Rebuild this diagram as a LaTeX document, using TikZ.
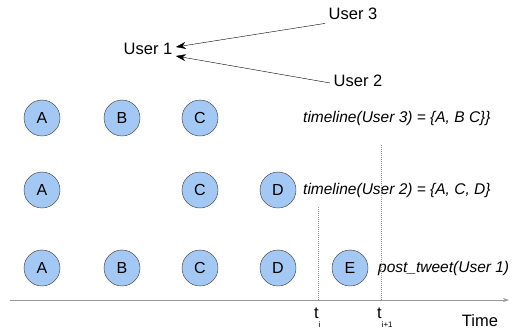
\documentclass[tikz,border=0pt]{standalone}
\usepackage{fontspec}
\setmainfont{Liberation Sans}
\usepackage{xcolor}
\usetikzlibrary{arrows, arrows.meta}
\usetikzlibrary{positioning}
\definecolor{tweetblue}{HTML}{A4C8F4}
\definecolor{axisgray}{HTML}{999999}

\begin{document}
\begin{tikzpicture}[>={Stealth[length=10pt,width=7pt]}, x=1pt, y=-1pt,
    tweet/.style={circle, draw=black!80, fill=tweetblue, minimum size=36pt, inner sep=0pt, font=\fontsize{16}{19}\selectfont},
    user/.style={font=\fontsize{16.5}{19}\selectfont},
    call/.style={font=\fontsize{15.5}{18}\selectfont\itshape, inner sep=0pt},
    marker/.style={dash pattern=on 1pt off 1pt, color=axisgray}]

                        \useasboundingbox (0,0) rectangle (516,335);

                        % \draw users
                        \node[user] (u1) at (148,49) {User 1};
                        \node[user] (u3) at (353,14) {User 3};
                        \node[user] (u2) at (358,81) {User 2};
                        \draw[->] (u3.south west) -- ([yshift=2pt]u1.east);
                        \draw[->] ([yshift=-2pt]u2.west) -- ([yshift=-7pt]u1.east);

                        % \draw timeline of User 3
                        \foreach \n/\x in {A/42,B/122,C/200} {
                          \node[tweet] (top\n) at (\x,118) {\n};
                        }
                        \node[call, anchor=west] (tl3) at (303,118) {timeline(User 3) = \{A, B C\}\}};

                        % \draw timeline of User 2
                        \foreach \n/\x in {A/42,C/200,D/278} {
                          \node[tweet] (mid\n) at (\x,190) {\n};
                        }
                        \node[call, anchor=west] (tl2) at (303,190) {timeline(User 2) = \{A, C, D\}};

                        % \draw tweets of User 1
                        \foreach \n/\x in {A/42,B/122,C/200,D/278,E/350} {
                          \node[tweet] (bot\n) at (\x,268) {\n};
                        }
                        \node[call, anchor=west] (post) at (378,268) {post\_tweet(User 1)};

                        % \draw time axis
                        \coordinate (axisL) at (10,300);
                        \coordinate (axisR) at (509,300);
                        \draw[-{Stealth[length=6pt,width=4pt]}, color=axisgray, thick] (axisL) -- (axisR);

                        % \draw time markers
                        \coordinate (tiTop) at (318,207);
                        \coordinate (tiBase) at (318,300);
                        \coordinate (tjTop) at (381,145);
                        \coordinate (tjBase) at (381,300);
                        \draw[marker] (tiTop) -- (tiBase);
                        \draw[marker] (tjTop) -- (tjBase);

                        \node[user, anchor=north west, inner sep=0pt] (ti) at (314,308) {t\raisebox{-9pt}{\fontsize{8}{8}\selectfont i}};
                        \node[user, anchor=north west, inner sep=0pt] (tj) at (377,308) {t\raisebox{-9pt}{\fontsize{8}{8}\selectfont i+1}};
                        \node[user] (time) at (480,321) {Time};

                        \end{tikzpicture}
\end{document}
